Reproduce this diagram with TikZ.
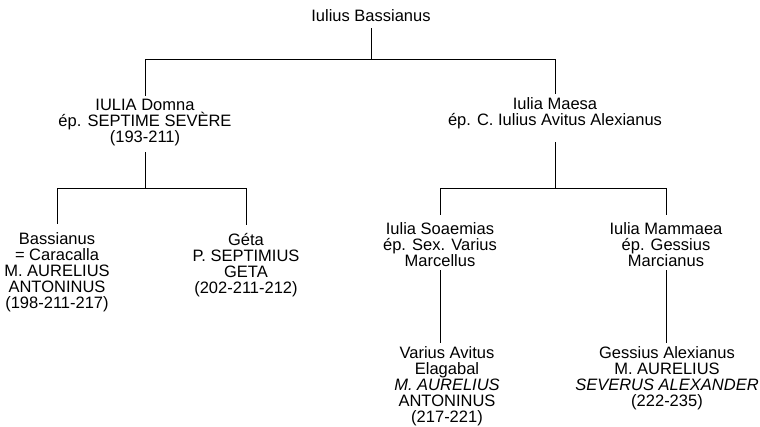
\documentclass[tikz,border=0pt]{standalone}
\usepackage{fontspec}
\setmainfont{Liberation Sans}
\begin{document}
\begin{tikzpicture}[x=1pt,y=-1pt,
  person/.style={align=center,inner xsep=0pt,inner ysep=4pt,anchor=north,
    font=\fontsize{16.5}{16}\selectfont},
  link/.style={line width=1pt,line cap=rect}]
\useasboundingbox (0,0) rectangle (760,426);

% people (node tops sit 4pt above the first line of text)
\node[person] (root) at (371,5) {Iulius Bassianus};
\node[person] (domna) at (145,95) {IULIA Domna\\ép. SEPTIME SEVÈRE\\(193-211)};
\node[person] (maesa) at (555,93) {Iulia Maesa\\ép. C. Iulius Avitus Alexianus};
\node[person] (carac) at (57,228) {Bassianus\\= Caracalla\\M. AURELIUS\\ANTONINUS\\(198-211-217)};
\node[person] (geta) at (246,229) {Géta\\P. SEPTIMIUS\\GETA\\(202-211-212)};
\node[person] (soaem) at (440,218) {Iulia Soaemias\\ép. Sex. Varius\\Marcellus};
\node[person] (mamm) at (666,218) {Iulia Mammaea\\ép. Gessius\\Marcianus};
\node[person] (elag) at (447,342) {Varius Avitus\\Elagabal\\\textit{M. AURELIUS}\\ANTONINUS\\(217-221)};
\node[person] (alex) at (667,342) {Gessius Alexianus\\M. AURELIUS\\\textit{SEVERUS ALEXANDER}\\(222-235)};

% heights of the horizontal bars
\coordinate (bar1) at (0,59);
\coordinate (bar2) at (0,188);

% connectors
\draw[link,shorten <=3pt] (root.south) -- (root.south |- bar1) -| (domna.north);
\draw[link] (root.south |- bar1) -| (maesa.north);
\draw[link,shorten <=2pt,shorten >=5pt] (domna.south) -- (domna.south |- bar2) -| (carac.north);
\draw[link,shorten >=5pt] (domna.south |- bar2) -| (geta.north);
\draw[link,shorten <=10pt,shorten >=4pt] (maesa.south) -- (maesa.south |- bar2) -| (soaem.north);
\draw[link,shorten >=4pt] (maesa.south |- bar2) -| (mamm.north);
\draw[link] (soaem.south) -- (soaem.south |- elag.north);
\draw[link] (mamm.south) -- (mamm.south |- alex.north);
\end{tikzpicture}
\end{document}
